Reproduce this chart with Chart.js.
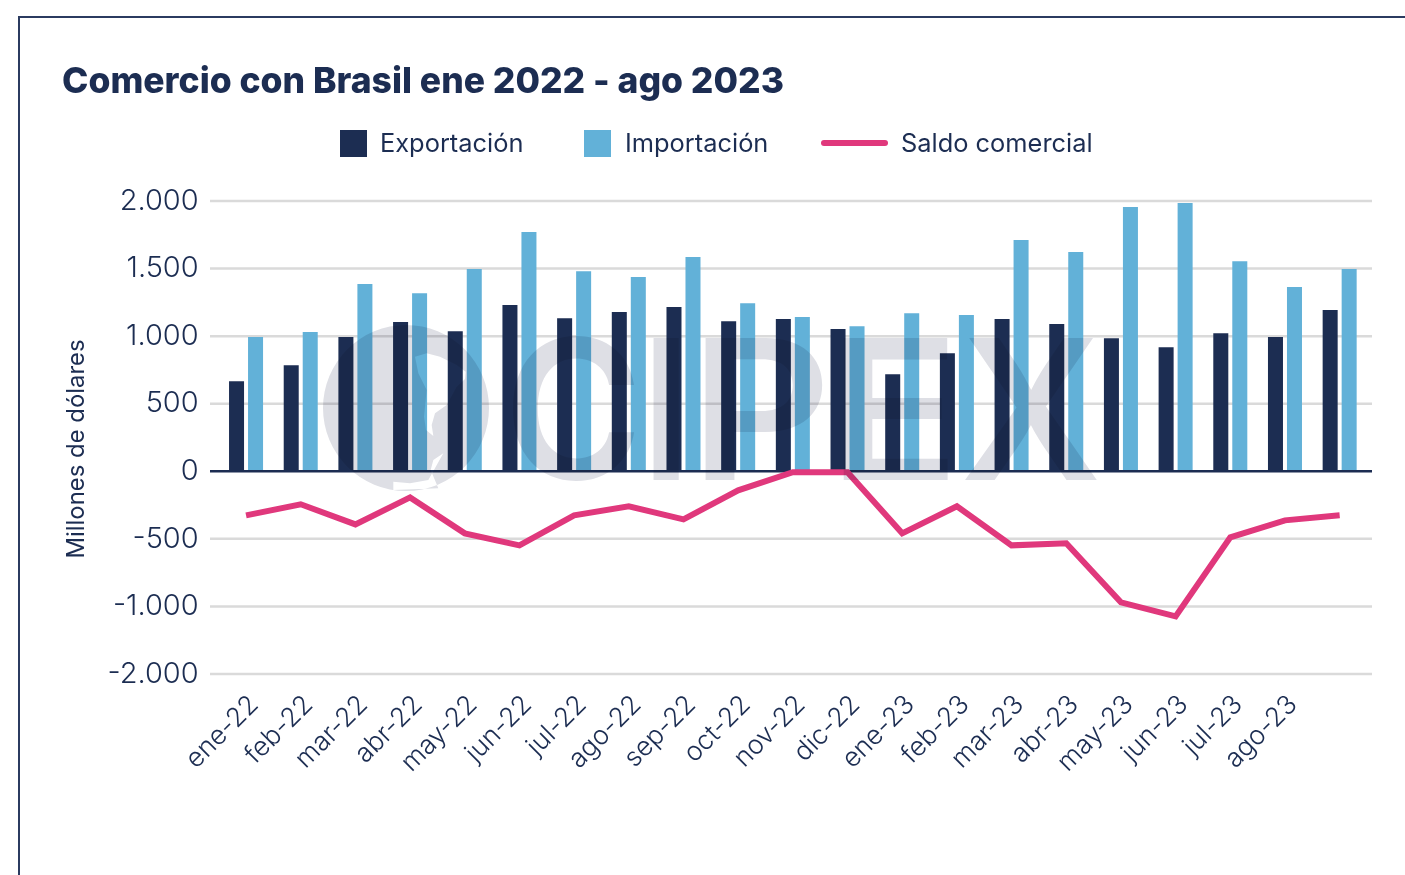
<!DOCTYPE html>
<html><head><meta charset="utf-8">
<style>
html,body{margin:0;padding:0;background:#fff;overflow:hidden;width:1405px;height:875px}
#frame{position:absolute;left:18px;top:16px;width:1500px;height:1000px;border:2px solid #2B3B60;box-sizing:border-box}
canvas{position:absolute;left:0;top:0}
</style>
<script src="https://cdn.jsdelivr.net/npm/chart.js@4/dist/chart.umd.min.js"></script>
</head><body>
<div id="frame"></div>
<canvas id="c" width="1405" height="875"></canvas>
<script>
const categories=["ene-22","feb-22","mar-22","abr-22","may-22","jun-22","jul-22","ago-22","sep-22","oct-22","nov-22","dic-22","ene-23","feb-23","mar-23","abr-23","may-23","jun-23","jul-23","ago-23",""];
const exportacion=[667,785,993,1104,1037,1230,1133,1178,1215,1111,1126,1052,718,874,1126,1089,985,918,1022,993,1193];
const importacion=[993,1030,1385,1318,1496,1770,1481,1437,1585,1244,1141,1074,1170,1156,1711,1622,1955,1985,1555,1363,1496];
const saldo=[-326,-244,-393,-193,-459,-548,-326,-259,-356,-141,-7,-7,-459,-259,-548,-533,-970,-1074,-489,-363,-326];
const yTickLabels={"2000":"2.000","1500":"1.500","1000":"1.000","500":"500","0":"0","-500":"-500","-1000":"-1.000","-1500":"-2.000"};
const titleText="Comercio con Brasil ene 2022 - ago 2023";
const yTitle="Millones de dólares";
const NAVY="#1C2D52",BLUE="#62B1D8",PINK="#E0387C",GRID="#DADADA",WM="#DEDFE5";
const FONT="Inter, 'Open Sans', sans-serif";

const gridPlugin={id:"gridExt",
 beforeDatasetsDraw(ch){
  const y=ch.scales.y,c=ch.ctx;c.save();c.strokeStyle=GRID;c.lineWidth=2.5;
  y.ticks.forEach(t=>{if(t.value===0)return;const p=y.getPixelForValue(t.value);c.beginPath();c.moveTo(210,p);c.lineTo(1372,p);c.stroke();});
  c.restore();
 },
 beforeDatasetDraw(ch,args){
  if(args.index!==2)return;
  const y=ch.scales.y,c=ch.ctx,p=y.getPixelForValue(0);c.save();c.strokeStyle=NAVY;c.lineWidth=2.5;
  c.beginPath();c.moveTo(210,p);c.lineTo(1372,p);c.stroke();c.restore();
 }};

const decorPlugin={id:"decor",
 afterDraw(ch){
  const c=ch.ctx;
  c.save();c.globalCompositeOperation="multiply";c.fillStyle=WM;
  const P=(x,y)=>[300+x/3,310+y/3];
  const land=[[345,140],[380,130],[420,140],[470,165],[497,185],[495,207],[470,230],[440,285],[405,310],[395,345],[400,378],[378,360],[372,320],[380,240],[355,190]];
  const wedge=[[430,430],[400,450],[392,480],[415,535],[280,540],[280,515],[330,520],[385,510]];
  c.beginPath();c.arc(406,408,83,0,Math.PI*2);
  [land,wedge].forEach(s=>{s.forEach((q,i)=>{const [a,b]=P(q[0],q[1]);i?c.lineTo(a,b):c.moveTo(a,b);});c.closePath();});
  c.fill("evenodd");
  const letters=[["C",513,635],["I",653,679],["P",705,823],["E",843,948],["X",965,1097]];
  letters.forEach(([s,x0,x1])=>{
   c.save();c.font="600 200px Inter, sans-serif";c.textAlign="left";c.textBaseline="alphabetic";
   const m=c.measureText(s);
   const w=m.actualBoundingBoxRight+m.actualBoundingBoxLeft,h=m.actualBoundingBoxAscent+m.actualBoundingBoxDescent;
   const top=s==="C"?337:338,bot=s==="C"?481:480;
   c.translate(x0,top);c.scale((x1-x0)/w,(bot-top)/h);
   c.fillText(s,m.actualBoundingBoxLeft,m.actualBoundingBoxAscent);c.restore();
  });
  c.restore();
  c.save();c.textBaseline="middle";c.font="400 25.4px "+FONT;
  const ds=ch.data.datasets;
  c.fillStyle=ds[0].backgroundColor;c.fillRect(340,130,27,27);
  c.fillStyle=ds[1].backgroundColor;c.fillRect(584,130,27,27);
  c.strokeStyle=ds[2].borderColor;c.lineWidth=6;c.lineCap="round";c.beginPath();c.moveTo(824,143);c.lineTo(885,143);c.stroke();
  c.fillStyle=NAVY;
  c.fillText(ds[0].label,380,144);c.fillText(ds[1].label,625,144);c.fillText(ds[2].label,901,144);
  c.translate(77,449);c.rotate(-Math.PI/2);c.textAlign="center";c.font="400 23.9px "+FONT;c.fillText(yTitle,0,0);
  c.restore();
 }};

new Chart(document.getElementById("c"),{
 data:{labels:categories,datasets:[
  {type:"bar",label:"Exportación",data:exportacion,backgroundColor:NAVY,order:2,categoryPercentage:0.695,barPercentage:0.79},
  {type:"bar",label:"Importación",data:importacion,backgroundColor:BLUE,order:2,categoryPercentage:0.695,barPercentage:0.79},
  {type:"line",label:"Saldo comercial",data:saldo,borderColor:PINK,borderWidth:6,pointRadius:0,tension:0,order:1,borderJoinStyle:"miter",fill:false}
 ]},
 options:{responsive:false,animation:false,
  layout:{padding:{left:62,right:38,top:0,bottom:0}},
  plugins:{legend:{display:false},tooltip:{enabled:false},
   title:{display:true,text:titleText,align:"start",color:NAVY,font:{family:FONT,size:35.5,weight:"800"},padding:{top:60.6,bottom:97.8}}},
  scales:{
   x:{grid:{display:false,drawTicks:false},border:{display:false},
      afterFit(s){s.height=201;},
      ticks:{color:NAVY,font:{family:FONT,size:26.5,weight:"300"},minRotation:45,maxRotation:45,autoSkip:false,padding:15,labelOffset:8}},
   y:{min:-1500,max:2000,grid:{display:false,drawTicks:false},border:{display:false},
      afterFit(s){s.width=156.7;},
      ticks:{stepSize:500,color:NAVY,font:{family:FONT,size:29,weight:"300"},padding:20,callback:v=>yTickLabels[String(v)]}}
  }},
 plugins:[gridPlugin,decorPlugin]
});
</script>
</body></html>
